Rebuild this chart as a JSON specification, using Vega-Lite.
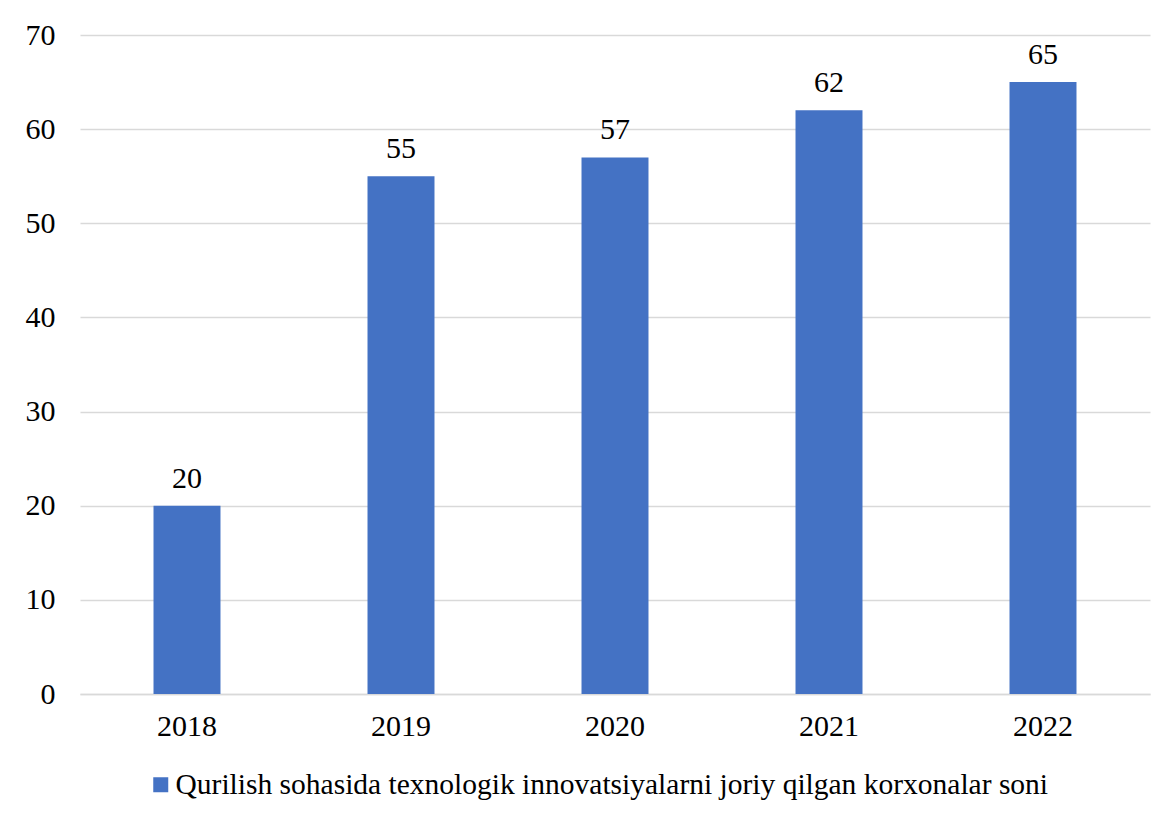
{
  "$schema": "https://vega.github.io/schema/vega-lite/v6.json",
  "autosize": {"type": "none"},
  "width": 1070,
  "height": 659,
  "padding": {"left": 80, "top": 35, "right": 26, "bottom": 126},
  "background": "white",
  "config": {
    "view": {"stroke": null},
    "font": "Liberation Serif"
  },
  "data": {
    "values": [
      {"year": "2018", "value": 20},
      {"year": "2019", "value": 55},
      {"year": "2020", "value": 57},
      {"year": "2021", "value": 62},
      {"year": "2022", "value": 65}
    ]
  },
  "encoding": {
    "x": {
      "field": "year",
      "type": "nominal",
      "scale": {"paddingInner": 0.687, "paddingOuter": 0.3435},
      "axis": {
        "title": null,
        "labelAngle": 0,
        "labelFont": "Liberation Serif",
        "labelFontSize": 30,
        "labelColor": "#000000",
        "labelPadding": 17,
        "ticks": false,
        "domainColor": "#d9d9d9",
        "domainWidth": 1.5
      }
    },
    "y": {
      "field": "value",
      "type": "quantitative",
      "scale": {"domain": [0, 70]},
      "axis": {
        "title": null,
        "values": [0, 10, 20, 30, 40, 50, 60, 70],
        "labelFont": "Liberation Serif",
        "labelFontSize": 30,
        "labelColor": "#000000",
        "labelPadding": 25,
        "ticks": false,
        "domain": false,
        "gridColor": "#d9d9d9",
        "gridWidth": 1.5
      }
    }
  },
  "layer": [
    {
      "mark": {"type": "bar", "color": "#4472C4"},
      "encoding": {
        "color": {
          "datum": "Qurilish sohasida texnologik innovatsiyalarni joriy qilgan korxonalar soni",
          "scale": {"range": ["#4472C4"]},
          "legend": {
            "title": null,
            "orient": "none",
            "legendX": 66,
            "legendY": 735,
            "symbolType": "square",
            "symbolSize": 225,
            "symbolStrokeWidth": 0,
            "symbolFillColor": "#4472C4",
            "labelFont": "Liberation Serif",
            "labelFontSize": 29.5,
            "labelColor": "#000000",
            "labelOffset": 0,
            "labelLimit": 1000
          }
        }
      }
    },
    {
      "mark": {
        "type": "text",
        "font": "Liberation Serif",
        "fontSize": 30,
        "color": "#000000",
        "baseline": "alphabetic",
        "dy": -18
      },
      "encoding": {"text": {"field": "value", "type": "quantitative"}}
    }
  ]
}
